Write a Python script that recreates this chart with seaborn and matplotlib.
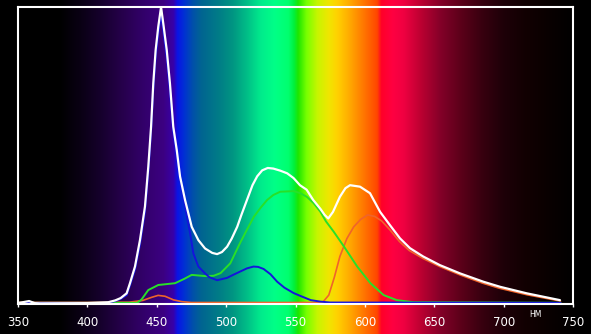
import numpy as np
import matplotlib
matplotlib.use('Agg')
import matplotlib.pyplot as plt
import seaborn as sns

# ---------------- data ----------------
white_wl = [350, 358, 362, 366, 400, 415, 420, 424, 428.3, 430.7, 434.3, 437.9, 441.5, 443.9,
            445.9, 447.5, 449.2, 451.1, 453.1, 455, 457.2, 459.5, 461.9, 464.4, 466.8, 470.4,
            475.2, 480, 484.8, 490, 493.5, 497, 500.7, 504, 508, 511, 515, 519, 522.4, 526,
            530, 534, 539, 544, 548.6, 553.2, 558, 562.8, 568, 571, 573.6, 577, 582, 586,
            589.3, 596.5, 603.7, 611, 618, 625.3, 632.5, 642, 654, 668.6, 685.4, 697.4, 716.6,
            740.6]
white_val = [0.003, 0.01, 0.003, 0.002, 0.003, 0.006, 0.012, 0.02, 0.036, 0.07, 0.126, 0.215,
             0.328, 0.462, 0.597, 0.743, 0.855, 0.934, 1.0, 0.934, 0.855, 0.743, 0.597, 0.519,
             0.429, 0.35, 0.26, 0.215, 0.187, 0.172, 0.168, 0.175, 0.193, 0.22, 0.26, 0.30,
             0.35, 0.40, 0.43, 0.45, 0.458, 0.456, 0.449, 0.44, 0.424, 0.40, 0.385, 0.35, 0.32,
             0.30, 0.288, 0.31, 0.361, 0.39, 0.40, 0.395, 0.373, 0.31, 0.266, 0.221, 0.188,
             0.16, 0.131, 0.103, 0.075, 0.058, 0.036, 0.013]

red_wl = [350, 430, 440, 446, 451, 456, 462, 468, 475, 565, 570, 574, 578, 582, 587, 592, 597,
          602, 607, 612, 618, 625, 632, 642, 654, 668.6, 685, 697, 717, 741]
red_val = [0.006, 0.006, 0.012, 0.022, 0.029, 0.026, 0.014, 0.008, 0.005, 0.005, 0.008, 0.03,
           0.09, 0.16, 0.22, 0.26, 0.285, 0.30, 0.295, 0.28, 0.25, 0.21, 0.18, 0.153, 0.126,
           0.098, 0.07, 0.053, 0.031, 0.010]

green_wl = [350, 436, 439, 443.9, 451.1, 463.2, 470, 475.2, 484.8, 491, 496, 503, 510, 515,
            520, 525, 529.5, 534, 539, 548.6, 553.6, 558.4, 563, 568, 572, 577.6, 585, 594.5,
            604, 613.5, 623, 635, 741]
green_val = [0.004, 0.004, 0.015, 0.047, 0.064, 0.07, 0.085, 0.098, 0.094, 0.095, 0.104,
             0.137, 0.205, 0.25, 0.294, 0.325, 0.35, 0.367, 0.378, 0.38, 0.373, 0.36, 0.34,
             0.31, 0.278, 0.243, 0.193, 0.126, 0.07, 0.03, 0.013, 0.006, 0.004]

blue_wl = [350, 415, 420, 424, 428.3, 430.7, 434.3, 437.9, 441.5, 443.9, 445.9, 447.5, 449.2,
           451.1, 453.1, 455, 457.2, 459.5, 461.9, 464.4, 466.8, 470.4, 474, 476.4, 480,
           484.8, 488, 493.5, 500.7, 505, 510, 515, 519.7, 523, 527, 532, 536.8, 542, 548.6,
           553.6, 561, 568, 575, 741]
blue_val = [0.004, 0.004, 0.01, 0.017, 0.03, 0.062, 0.115, 0.2, 0.31, 0.44, 0.58, 0.72, 0.83,
            0.91, 0.975, 0.91, 0.83, 0.72, 0.58, 0.50, 0.415, 0.328, 0.238, 0.17, 0.126,
            0.103, 0.09, 0.08, 0.088, 0.098, 0.109, 0.12, 0.126, 0.125, 0.118, 0.10, 0.075,
            0.055, 0.037, 0.027, 0.013, 0.008, 0.005, 0.004]

x_ticks = [350, 400, 450, 500, 550, 600, 650, 700, 750]
unit_label = 'НМ'

# background spectrum colour stops (wavelength, RGB)
bg_wl = [300, 380, 395, 410, 425, 440, 455, 462, 465, 470, 476, 482, 495, 505, 515, 525, 535,
         545, 549, 552, 558, 566, 574, 580, 588, 595, 603, 609, 612, 620, 628, 640, 655, 670,
         685, 700, 715, 735, 752, 800]
bg_rgb = [(0, 0, 0), (0, 0, 0), (10, 0, 20), (22, 0, 45), (38, 0, 75), (50, 0, 105),
          (60, 0, 130), (55, 0, 170), (10, 20, 230), (0, 50, 210), (0, 80, 170), (0, 100, 145),
          (0, 125, 135), (0, 150, 130), (0, 190, 135), (0, 235, 140), (0, 255, 135),
          (0, 255, 110), (0, 240, 60), (30, 230, 0), (120, 255, 0), (200, 245, 0),
          (240, 230, 0), (255, 210, 0), (255, 175, 0), (255, 140, 0), (255, 100, 0),
          (255, 70, 0), (255, 0, 40), (255, 0, 65), (240, 0, 65), (190, 0, 50), (130, 0, 40),
          (90, 0, 25), (55, 0, 15), (30, 0, 8), (18, 0, 2), (8, 0, 0), (0, 0, 0), (0, 0, 0)]

# ---------------- figure ----------------
sns.set_theme(style='dark')
plt.rcParams['font.family'] = ['DejaVu Sans']

W, H = 591, 334
fig = plt.figure(figsize=(W / 100, H / 100), dpi=100)
fig.patch.set_facecolor('black')

ax_l, ax_r, ax_t, ax_b = 18, 573, 7, 304
px_per_nm = (ax_r - ax_l) / 400.0
lam_left = 350 - ax_l / px_per_nm
lam_right = 350 + (W - ax_l) / px_per_nm

bg = fig.add_axes([0, 0, 1, 1])
grid = np.linspace(lam_left, lam_right, 1400)
chans = list(zip(*bg_rgb))
rgb = np.stack([np.interp(grid, bg_wl, c) for c in chans], axis=-1) / 255.0
bg.imshow(rgb[None, :, :], aspect='auto', extent=[lam_left, lam_right, 0, 1],
          interpolation='bilinear')
bg.set_xlim(lam_left, lam_right)
bg.set_axis_off()

ax = fig.add_axes([ax_l / W, (H - ax_b) / H, (ax_r - ax_l) / W, (ax_b - ax_t) / H])
ax.patch.set_alpha(0)

sns.lineplot(x=red_wl, y=red_val, ax=ax, color='#f0642a', lw=1.2)
sns.lineplot(x=green_wl, y=green_val, ax=ax, color='#28e028', lw=1.4)
sns.lineplot(x=blue_wl, y=blue_val, ax=ax, color='#1414dc', lw=1.4)
sns.lineplot(x=white_wl, y=white_val, ax=ax, color='white', lw=1.6)

ax.set_xlim(350, 750)
ax.set_ylim(0, 1.0)
ax.set_xticks(x_ticks)
ax.set_xticklabels([str(t) for t in x_ticks])
ax.set_yticks([])
ax.set_xlabel('')
ax.set_ylabel('')
ax.grid(False)
for s in ax.spines.values():
    s.set_visible(True)
    s.set_color('white')
    s.set_linewidth(1.5)
ax.tick_params(axis='x', colors='white', direction='out', length=2.5, width=1,
               labelsize=8.5, pad=6, bottom=True)

ax.text(722.6, -0.037, unit_label, color='white', fontsize=5.5, ha='center', va='center',
        transform=ax.get_xaxis_transform(), clip_on=False)

fig.savefig('out.png', dpi=100, facecolor='black')
